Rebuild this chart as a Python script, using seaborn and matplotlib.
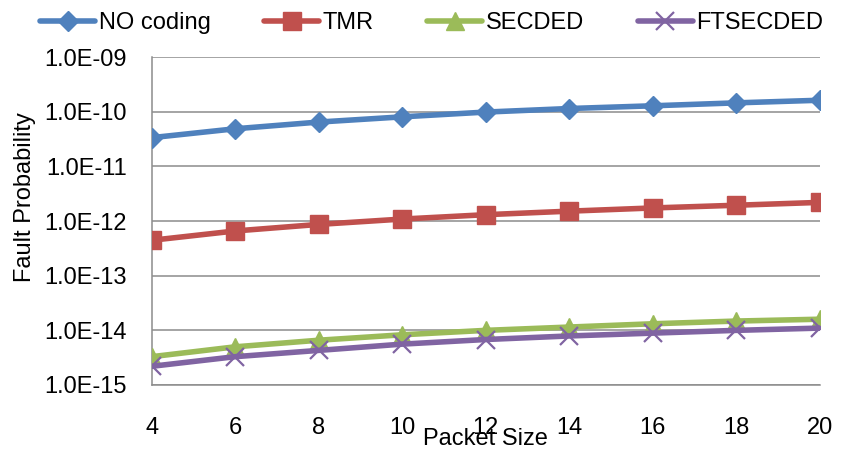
import numpy as np
import pandas as pd
import seaborn as sns
import matplotlib.pyplot as plt

# data
packet_size = [4, 6, 8, 10, 12, 14, 16, 18, 20]
no_coding = [3.37e-11, 4.9e-11, 6.5e-11, 8.1e-11, 9.9e-11, 1.15e-10, 1.29e-10, 1.46e-10, 1.63e-10]
tmr = [4.46e-13, 6.6e-13, 8.7e-13, 1.09e-12, 1.31e-12, 1.52e-12, 1.74e-12, 1.95e-12, 2.2e-12]
secded = [3.3e-15, 5.0e-15, 6.6e-15, 8.3e-15, 1.0e-14, 1.15e-14, 1.32e-14, 1.48e-14, 1.6e-14]
ftsecded = [2.2e-15, 3.3e-15, 4.3e-15, 5.6e-15, 6.8e-15, 7.9e-15, 8.9e-15, 1.0e-14, 1.1e-14]

series_names = ["NO coding", "TMR", "SECDED", "FTSECDED"]
colors = ["#4F81BD", "#C0504D", "#9BBB59", "#8064A2"]
markers = ["D", "s", "^", "x"]
msizes = [10, 13, 13, 13]

df = pd.DataFrame({
    "Packet Size": packet_size * 4,
    "Fault Probability": no_coding + tmr + secded + ftsecded,
    "series": sum([[n] * len(packet_size) for n in series_names], []),
})

sns.set_style("white")
plt.rcParams["font.family"] = ["Liberation Sans", "DejaVu Sans"]
plt.rcParams["text.color"] = "black"
plt.rcParams["axes.labelcolor"] = "black"
FS = 17
grid_c = "#8c8c8c"

fig = plt.figure(figsize=(8.53, 4.54), dpi=100)
ax = fig.add_axes([0.178, 0.152, 0.783, 0.722])

for name, c, m, ms in zip(series_names, colors, markers, msizes):
    sub = df[df["series"] == name]
    sns.lineplot(data=sub, x="Packet Size", y="Fault Probability", ax=ax,
                 color=c, marker=m, markersize=ms, linewidth=4,
                 markeredgecolor=c, markeredgewidth=1.6 if m == "x" else 1,
                 label=name, zorder=3)

ax.set_yscale("log")
ax.set_ylim(1e-15, 1e-9)
ax.set_xlim(4, 20)
ax.set_xticks(packet_size)
ax.set_yticks([10.0 ** e for e in range(-15, -8)])
ax.set_yticklabels(["1.0E-%02d" % -e for e in range(-15, -8)])
ax.yaxis.set_minor_locator(plt.NullLocator())
ax.grid(axis="y", color=grid_c, linewidth=1.1)
ax.grid(axis="x", visible=False)

for s in ["top", "right"]:
    ax.spines[s].set_visible(False)
for s in ["left", "bottom"]:
    ax.spines[s].set_color(grid_c)
    ax.spines[s].set_linewidth(1.1)

ax.tick_params(axis="both", which="major", direction="out", length=6, width=1.1,
               color=grid_c, labelcolor="black", labelsize=FS)
ax.tick_params(axis="y", pad=12)
ax.tick_params(axis="x", pad=17)
ax.set_xlabel("Packet Size", fontsize=FS)
ax.set_ylabel("Fault Probability", fontsize=FS)
ax.xaxis.set_label_coords(0.5, -0.131)
ax.yaxis.set_label_coords(-0.174, 0.573)

ax.legend(loc="center left", bbox_to_anchor=(40 / 853, 1 - 23 / 454),
          bbox_transform=fig.transFigure, ncol=4, frameon=False,
          fontsize=FS, handlelength=2.33, columnspacing=2.27, handletextpad=0.15,
          borderaxespad=0, borderpad=0)

fig.savefig("out.png", dpi=100)
